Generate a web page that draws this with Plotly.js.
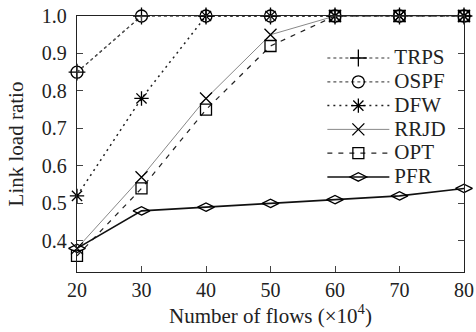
<!DOCTYPE html>
<html><head><meta charset="utf-8">
<script src="https://cdn.plot.ly/plotly-3.0.1.min.js"></script>
<style>body{margin:0;background:#fff}#c{width:476px;height:332px}</style>
</head><body><div id="c"></div>
<script>
const flows = [20, 30, 40, 50, 60, 70, 80];
const trps = [0.85, 1.0, 1.0, 1.0, 1.0, 1.0, 1.0];
const ospf = [0.85, 1.0, 1.0, 1.0, 1.0, 1.0, 1.0];
const dfw  = [0.52, 0.78, 1.0, 1.0, 1.0, 1.0, 1.0];
const rrjd = [0.38, 0.57, 0.78, 0.95, 1.0, 1.0, 1.0];
const opt  = [0.36, 0.54, 0.75, 0.92, 1.0, 1.0, 1.0];
const pfr  = [0.38, 0.48, 0.49, 0.50, 0.51, 0.52, 0.54];
const seriesNames = ['TRPS', 'OSPF', 'DFW', 'RRJD', 'OPT', 'PFR'];
const yTicks = [0.4, 0.5, 0.6, 0.7, 0.8, 0.9, 1.0];
const yTickText = ['0.4', '0.5', '0.6', '0.7', '0.8', '0.9', '1.0'];

function tr(i, y, sym, dash, width, color, msize) {
  return {x: flows, y: y, name: '<span style="font-size:21px">' + seriesNames[i] + '</span>',
    type: 'scatter', mode: 'lines+markers',
    line: {color: color, width: width, dash: dash},
    marker: {symbol: sym, size: msize, color: '#000', line: {color: '#000', width: 1.3}},
    cliponaxis: false};
}
const data = [
  tr(0, trps, 'cross-thin-open', 'dot', 1.2, '#333', 12),
  tr(1, ospf, 'circle-open', 'dot', 1.2, '#555', 12),
  tr(2, dfw, 'asterisk-open', '2px,4px', 1.5, '#222', 12),
  tr(3, rrjd, 'x-thin-open', 'solid', 1, '#888', 12),
  tr(4, opt, 'square-open', '5px,6px', 1.2, '#222', 11),
  tr(5, pfr, 'diamond-wide-open', 'solid', 1.6, '#111', 12)
];
const fam = "'Liberation Serif', 'Times New Roman', serif";
const font = {family: fam, color: '#222'};
const layout = {
  width: 476, height: 332,
  margin: {l: 77, r: 12, t: 16, b: 60},
  paper_bgcolor: '#fff', plot_bgcolor: '#fff',
  font: Object.assign({size: 20}, font),
  showlegend: true,
  legend: {x: 0.634, y: 0.902, xanchor: 'left', yanchor: 'top', bgcolor: 'rgba(0,0,0,0)',
    font: Object.assign({size: 16}, font), itemwidth: 62, tracegroupgap: 0},
  xaxis: {range: [20, 80], tickvals: flows, ticks: 'inside', ticklen: 6, mirror: 'ticks',
    showline: true, linecolor: '#222', linewidth: 1.2, showgrid: false, zeroline: false,
    tickfont: Object.assign({size: 20}, font),
    title: {text: 'Number of flows (×10<sup>4</sup>)', font: Object.assign({size: 21}, font), standoff: 6}},
  yaxis: {range: [0.317, 1.0], tickvals: yTicks, ticktext: yTickText, ticks: 'inside', ticklen: 6,
    mirror: 'ticks', showline: true, linecolor: '#222', linewidth: 1.2, showgrid: false, zeroline: false,
    tickfont: Object.assign({size: 20}, font), ticklabelstandoff: 5,
    title: {text: 'Link load ratio', font: Object.assign({size: 21}, font), standoff: 12}}
};
Plotly.newPlot('c', data, layout, {staticPlot: true});
</script></body></html>
